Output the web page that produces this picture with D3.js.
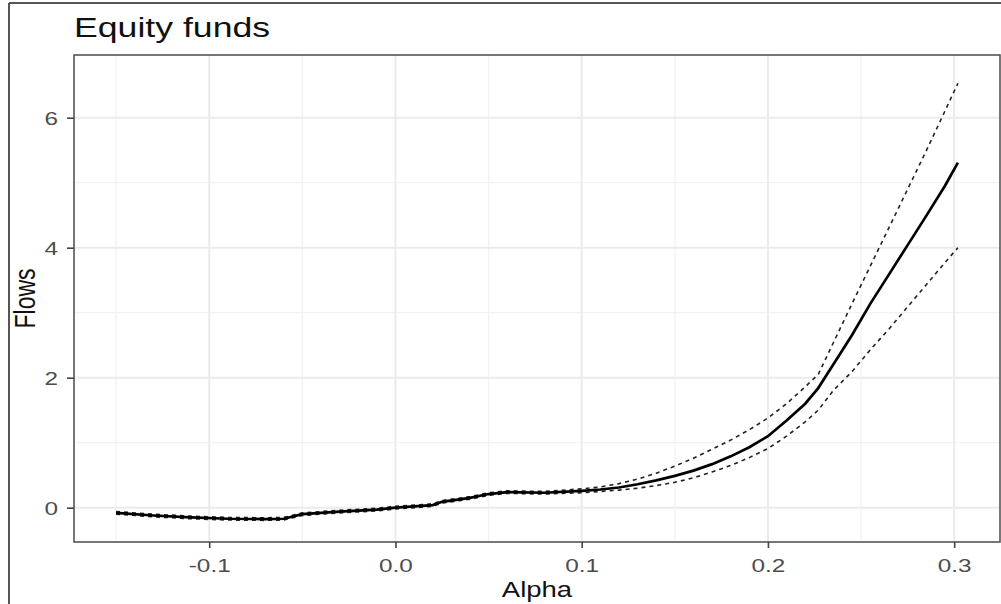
<!DOCTYPE html>
<meta charset="utf-8">
<style>
body { margin: 0; background: #fff; }
svg text { font-family: "Liberation Sans", Arial, sans-serif; }
.grid line { stroke: #ebebeb; }
</style>
<body>
<svg width="1001" height="604"></svg>
<script src="https://cdn.jsdelivr.net/npm/d3@7"></script>
<script>

// data
var alpha = [-0.15, -0.13, -0.11, -0.09, -0.07, -0.06, -0.05, -0.03, -0.01, 0, 0.02, 0.025, 0.04, 0.05, 0.06, 0.08, 0.1,
  0.11, 0.12, 0.13, 0.14, 0.15, 0.16, 0.17, 0.18, 0.19, 0.2, 0.21, 0.22, 0.227, 0.235, 0.245, 0.255, 0.265, 0.275, 0.285, 0.295, 0.302];

var flow = [-0.08, -0.12, -0.15, -0.17, -0.175, -0.17, -0.10, -0.06, -0.03, 0.0, 0.04, 0.09, 0.15, 0.21, 0.24, 0.23, 0.26,
  0.28, 0.31, 0.36, 0.42, 0.49, 0.57, 0.67, 0.79, 0.93, 1.1, 1.34, 1.60, 1.84, 2.20, 2.65, 3.14, 3.59, 4.04, 4.49, 4.95, 5.31];

var upper = [-0.06, -0.10, -0.13, -0.15, -0.155, -0.15, -0.08, -0.04, -0.01, 0.02, 0.06, 0.11, 0.17, 0.23, 0.26, 0.25, 0.29,
  0.32, 0.37, 0.44, 0.53, 0.64, 0.76, 0.90, 1.04, 1.20, 1.38, 1.60, 1.86, 2.05, 2.53, 3.13, 3.72, 4.31, 4.90, 5.49, 6.10, 6.53];

var lower = [-0.10, -0.14, -0.17, -0.19, -0.195, -0.19, -0.12, -0.08, -0.05, -0.02, 0.02, 0.07, 0.13, 0.19, 0.22, 0.21, 0.23,
  0.25, 0.27, 0.30, 0.34, 0.39, 0.46, 0.55, 0.65, 0.77, 0.91, 1.10, 1.32, 1.50, 1.80, 2.09, 2.43, 2.75, 3.09, 3.43, 3.77, 4.0];

var xTicks = [-0.1, 0.0, 0.1, 0.2, 0.3];
var xMinor = [-0.15, -0.05, 0.05, 0.15, 0.25];
var yTicks = [0, 2, 4, 6];
var yMinor = [1, 3, 5];

var svg = d3.select("svg");
var stretch = 1.28; // text in the picture is widened

var pLeft = 74, pRight = 1000, pTop = 55, pBottom = 542;

// ggplot style 5% expansion on x
var ext = d3.extent(alpha), pad = (ext[1] - ext[0]) * 0.05;
var x = d3.scaleLinear().domain([ext[0] - pad, ext[1] + pad]).range([pLeft, pRight]);
var y = d3.scaleLinear().domain([-0.528, 6.965]).range([pBottom, pTop]);

// outer frame
svg.append("line").attr("x1", 9).attr("x2", 9).attr("y1", 3).attr("y2", 604)
  .attr("stroke", "#555").attr("stroke-width", 2);
svg.append("line").attr("x1", 9).attr("x2", 1001).attr("y1", 3).attr("y2", 3)
  .attr("stroke", "#555").attr("stroke-width", 2);

// grid
var grid = svg.append("g").attr("class", "grid");
grid.selectAll(".vmin").data(xMinor).enter().append("line")
  .attr("x1", d => x(d)).attr("x2", d => x(d)).attr("y1", pTop).attr("y2", pBottom)
  .attr("stroke-width", 1.3).style("stroke", "#f2f2f2");
grid.selectAll(".hmin").data(yMinor).enter().append("line")
  .attr("y1", d => y(d)).attr("y2", d => y(d)).attr("x1", pLeft).attr("x2", pRight)
  .attr("stroke-width", 1.3).style("stroke", "#f2f2f2");
grid.selectAll(".vmaj").data(xTicks).enter().append("line")
  .attr("x1", d => x(d)).attr("x2", d => x(d)).attr("y1", pTop).attr("y2", pBottom)
  .attr("stroke-width", 2);
grid.selectAll(".hmaj").data(yTicks).enter().append("line")
  .attr("y1", d => y(d)).attr("y2", d => y(d)).attr("x1", pLeft).attr("x2", pRight)
  .attr("stroke-width", 2);

// lines
function series(vals) {
  return alpha.map(function(a, i) { return [a, vals[i]]; });
}
var line = d3.line().x(d => x(d[0])).y(d => y(d[1]));

svg.append("path").datum(series(upper)).attr("d", line)
  .attr("fill", "none").attr("stroke", "#222").attr("stroke-width", 1.6).attr("stroke-dasharray", "4,4");
svg.append("path").datum(series(lower)).attr("d", line)
  .attr("fill", "none").attr("stroke", "#222").attr("stroke-width", 1.6).attr("stroke-dasharray", "4,4");
svg.append("path").datum(series(flow)).attr("d", line)
  .attr("fill", "none").attr("stroke", "#000").attr("stroke-width", 2.7);

// panel border
svg.append("rect").attr("x", pLeft).attr("y", pTop).attr("width", pRight - pLeft).attr("height", pBottom - pTop)
  .attr("fill", "none").attr("stroke", "#555").attr("stroke-width", 1.6);

// axes
var hyphen = function(f) { return function(d) { return f(d).replace("\u2212", "-"); }; };
var xAxis = svg.append("g").attr("transform", "translate(0," + pBottom + ")")
  .call(d3.axisBottom(x).tickValues(xTicks).tickSize(6).tickFormat(hyphen(d3.format(".1f"))));
var yAxis = svg.append("g").attr("transform", "translate(" + pLeft + ",0)")
  .call(d3.axisLeft(y).tickValues(yTicks).tickSize(7).tickFormat(d3.format("d")));
[xAxis, yAxis].forEach(function(g) {
  g.select(".domain").remove();
  g.selectAll(".tick line").attr("stroke", "#444").attr("stroke-width", 1.6);
  g.selectAll(".tick text").attr("fill", "#4d4d4d").attr("font-size", "19px")
    .attr("font-family", "Liberation Sans, Arial, sans-serif");
});
xAxis.selectAll(".tick text").attr("y", null).attr("dy", null)
  .attr("transform", "translate(0,30) scale(" + stretch + ",1)");
yAxis.selectAll(".tick text").attr("x", null).attr("dy", "0.35em")
  .attr("transform", "translate(-16,0) scale(" + stretch + ",1)");

// titles
svg.append("text").attr("transform", "translate(" + pLeft + ",37) scale(" + (stretch + 0.04) + ",1)")
  .attr("font-size", "27px").attr("fill", "#111").text("Equity funds");
svg.append("text").attr("transform", "translate(" + ((pLeft + pRight) / 2) + ",597) scale(" + stretch + ",1)")
  .attr("text-anchor", "middle").attr("font-size", "21.5px").attr("fill", "#111").text("Alpha");
svg.append("text").attr("transform", "translate(35," + ((pTop + pBottom) / 2) + ") scale(" + stretch + ",1) rotate(-90)")
  .attr("text-anchor", "middle").attr("font-size", "23px").attr("fill", "#111").text("Flows");

</script>
</body>
